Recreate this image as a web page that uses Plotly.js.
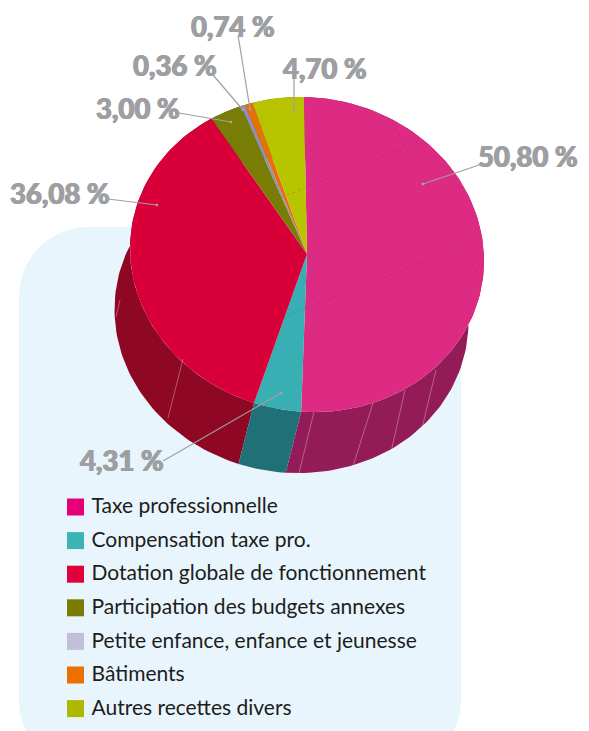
<!DOCTYPE html>
<html><head><meta charset="utf-8">
<script src="https://cdn.plot.ly/plotly-3.0.1.min.js"></script>
<style>html,body{margin:0;padding:0;background:#fff;overflow:hidden}#c{width:589px;height:731px}</style>
</head><body><div id="c"></div>
<script>
// ---- data
const categories = ["Taxe professionnelle","Compensation taxe pro.","Dotation globale de fonctionnement","Participation des budgets annexes","Petite enfance, enfance et jeunesse","Bâtiments","Autres recettes divers"];
const values = [50.80, 4.31, 36.08, 3.00, 0.36, 0.74, 4.70];
const topColors = ["#dd2a82","#38b0b3","#d9003a","#787e05","#8d8fc4","#e5710a","#b8c400"];
const wallColors = ["#931b58","#207177","#8f0823","#4f5303","#5f6088","#9c4c06","#7c8400"];
const legendColors = ["#e5007a","#3cb4b6","#e2003c","#787d00","#c5bedb","#ec7000","#afb800"];

// ---- layout geometry (page pixels)
const W = 589, H = 731;
const C = {x:307, y:254.5, rx:177, ry:157.5, shear:0.035, startDeg:-1, dx:-15.5, dy:61};
const FONT_LABEL = 'Lato,sans-serif';
const FONT_LEGEND = 'Lato,sans-serif';
const total = values.reduce((a,b)=>a+b,0);
function rim(deg, ox, oy){
  const t = deg*Math.PI/180;
  return [C.x + C.rx*Math.sin(t) + (ox||0), C.y - C.ry*Math.cos(t) + C.shear*C.rx*Math.sin(t) + (oy||0)];
}
function arc(a,b,ox,oy){
  const n = Math.max(2, Math.ceil(Math.abs(b-a)/1.5)), pts=[];
  for(let i=0;i<=n;i++) pts.push(rim(a+(b-a)*i/n,ox,oy));
  return pts;
}
const walls=[], tops=[];
let acc=0;
values.forEach((v,i)=>{
  const a=C.startDeg+acc/total*360; acc+=v; const b=C.startDeg+acc/total*360;
  const w=arc(a,b).concat(arc(a,b,C.dx,C.dy).reverse());
  walls.push({x:w.map(p=>p[0]),y:w.map(p=>p[1]),mode:'lines',fill:'toself',fillcolor:wallColors[i],line:{width:0},hoverinfo:'skip',showlegend:false});
  const s=[[C.x,C.y-0.5]].concat(arc(a,b));
  tops.push({x:s.map(p=>p[0]),y:s.map(p=>p[1]),mode:'lines',fill:'toself',fillcolor:topColors[i],line:{width:0},name:categories[i],hoverinfo:'skip',showlegend:false});
});
// draw walls from the back to the front
const wallOrder=[3,4,5,6,0,2,1].map(i=>walls[i]);

const legX=75.5, legTextX=91.5, legY0=508, legStep=33.6;
const legendYs=categories.map((_,i)=>legY0-1+i*legStep);
const legendTextYs=categories.map((_,i)=>legY0+i*legStep);
const legendMarks={x:categories.map(()=>legX),y:legendYs,mode:'markers',marker:{symbol:'square',size:17,color:legendColors,line:{width:0}},hoverinfo:'skip',showlegend:false};
const legendText={x:categories.map(()=>legTextX),y:legendTextYs,mode:'text',text:categories,textposition:'middle right',textfont:{family:FONT_LEGEND,size:21,color:'#1d1d1b'},hoverinfo:'skip',showlegend:false};

// leader lines & label placement, in slice order: [text cx, text cy, line-start x,y, line-end x,y]
const labelPos=[[528,156,482,164,423,184],[122,460,163,461,281,393],[60,193,108,199,157,205],[138,108,179,113,231,122],[175,65,213,75,243,110],[233,26,238,35,250,109],[325,68,294,78,294,112]];
const fmt=v=>v.toFixed(2).replace('.',',')+' %';
const annotations=values.map((v,i)=>({x:labelPos[i][0],y:labelPos[i][1],xref:'x',yref:'y',text:fmt(v),showarrow:false,xanchor:'center',yanchor:'middle',font:{family:FONT_LABEL,size:27.5,color:'#9d9fa2',weight:900,shadow:'0.6px 0 0 #9d9fa2, -0.6px 0 0 #9d9fa2'}}));
const leaderShapes=labelPos.map(p=>({type:'line',xref:'x',yref:'y',x0:p[2],y0:p[3],x1:p[4],y1:p[5],line:{color:'#9d9fa2',width:1.2},layer:'above'}));
const leaderDots=labelPos.map(p=>({type:'circle',xref:'x',yref:'y',x0:p[4]-1.3,y0:p[5]-1.3,x1:p[4]+1.3,y1:p[5]+1.3,fillcolor:'#a5a7aa',line:{width:0},layer:'above'}));

// faint construction lines printed over the pie
const seams=[[131,258,418,142],[183,358,482,238],[230,143,373,403],[392,123,483,283]];
const seamShapes=seams.map(s=>({type:'line',xref:'x',yref:'y',x0:s[0],y0:s[1],x1:s[2],y1:s[3],line:{color:'rgba(120,40,90,0.35)',width:0.7,dash:'dot'},layer:'above'}));
const wallLines=[[183,359,168,418],[314,412,299,473],[405,390,391,452],[436,370,422,428],[373,403,353,466],[120,300,116,317]];
const wallShapes=wallLines.map(s=>({type:'line',xref:'x',yref:'y',x0:s[0],y0:s[1],x1:s[2],y1:s[3],line:{color:'rgba(255,255,255,0.45)',width:0.7},layer:'above'}));

const panel={type:'path',xref:'x',yref:'y',layer:'below',fillcolor:'#e9f5fc',line:{width:0},
  path:'M19,297 C19,258 50,227 89,227 L391,227 C430,227 461,258 461,297 L461,700 C461,739 430,770 391,770 L89,770 C50,770 19,739 19,700 Z'};

const layout={width:W,height:H,margin:{l:0,r:0,t:0,b:0},paper_bgcolor:'#fff',plot_bgcolor:'#fff',showlegend:false,
  xaxis:{range:[0,W],visible:false,fixedrange:true},
  yaxis:{range:[H,0],visible:false,fixedrange:true},
  shapes:[panel].concat(wallShapes,seamShapes,leaderShapes,leaderDots),annotations};
Plotly.newPlot('c',wallOrder.concat(tops,[legendMarks,legendText]),layout,{displayModeBar:false,staticPlot:true});
</script></body></html>
